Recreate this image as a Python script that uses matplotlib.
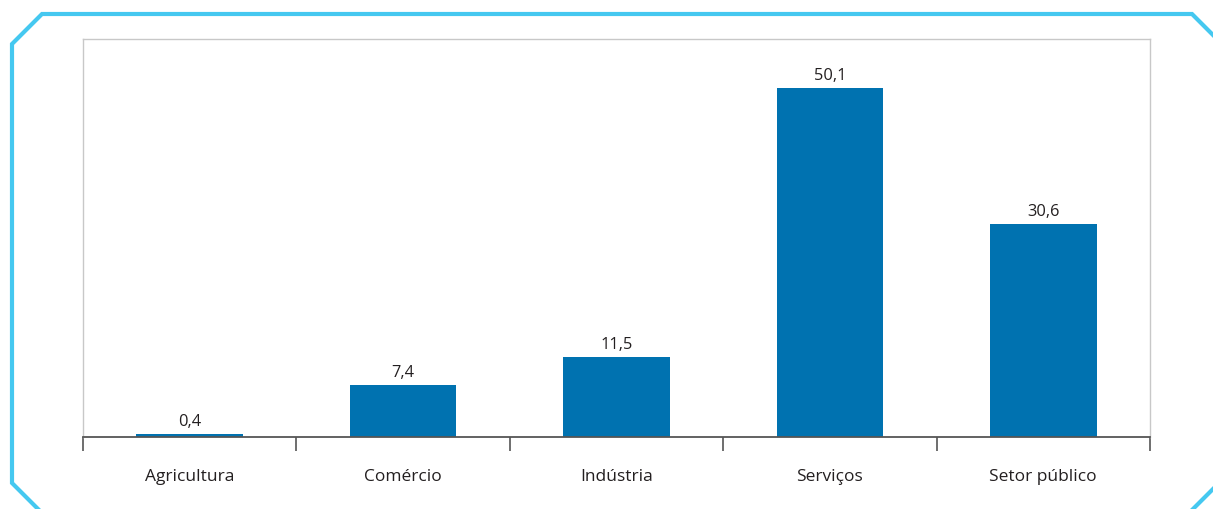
import matplotlib.pyplot as plt
from matplotlib.lines import Line2D

plt.rcParams['font.family'] = ['Open Sans', 'DejaVu Sans']

# Data
categories = ['Agricultura', 'Comércio', 'Indústria', 'Serviços', 'Setor público']
values = [0.4, 7.4, 11.5, 50.1, 30.6]
value_labels = ['0,4', '7,4', '11,5', '50,1', '30,6']

W, H = 1213, 509
fig = plt.figure(figsize=(W / 100, H / 100), dpi=100)
ax = fig.add_axes([83 / W, 1 - 437 / H, (1150 - 83) / W, (437 - 38.7) / H])

x = range(len(categories))
bars = ax.bar(x, values, width=0.5, color='#0072B0', zorder=2)

for b, lab in zip(bars, value_labels):
    ax.annotate(lab, (b.get_x() + b.get_width() / 2, b.get_height()),
                xytext=(0, 3), textcoords='offset points',
                ha='center', va='bottom', fontsize=11.8, color='#231F20')

ax.set_xlim(-0.5, len(categories) - 0.5)
ax.set_ylim(0, 57.2)
ax.set_yticks([])

# labels at centres, tick marks at boundaries
ax.set_xticks(list(x))
ax.set_xticklabels(categories, fontsize=12.5, color='#231F20')
ax.tick_params(axis='x', which='major', length=0, pad=23)
ax.set_xticks([i - 0.5 for i in range(len(categories) + 1)], minor=True)
ax.tick_params(axis='x', which='minor', length=10, width=1.2, color='#555555')

for s in ['top', 'left', 'right']:
    ax.spines[s].set_color('#c8c8c8')
    ax.spines[s].set_linewidth(1.0)
ax.spines['bottom'].set_color('#555555')
ax.spines['bottom'].set_linewidth(1.3)

# decorative frame with cut corners
px = [42, 12, 12, 42, 1192, 1222, 1222, 1189]
py = [513, 483, 44, 14, 14, 44, 480, 513]
frame = Line2D([p / W for p in px], [1 - p / H for p in py], transform=fig.transFigure,
               color='#45C8F0', linewidth=3.0, solid_joinstyle='miter')
fig.add_artist(frame)

fig.savefig('out.png', dpi=100)
